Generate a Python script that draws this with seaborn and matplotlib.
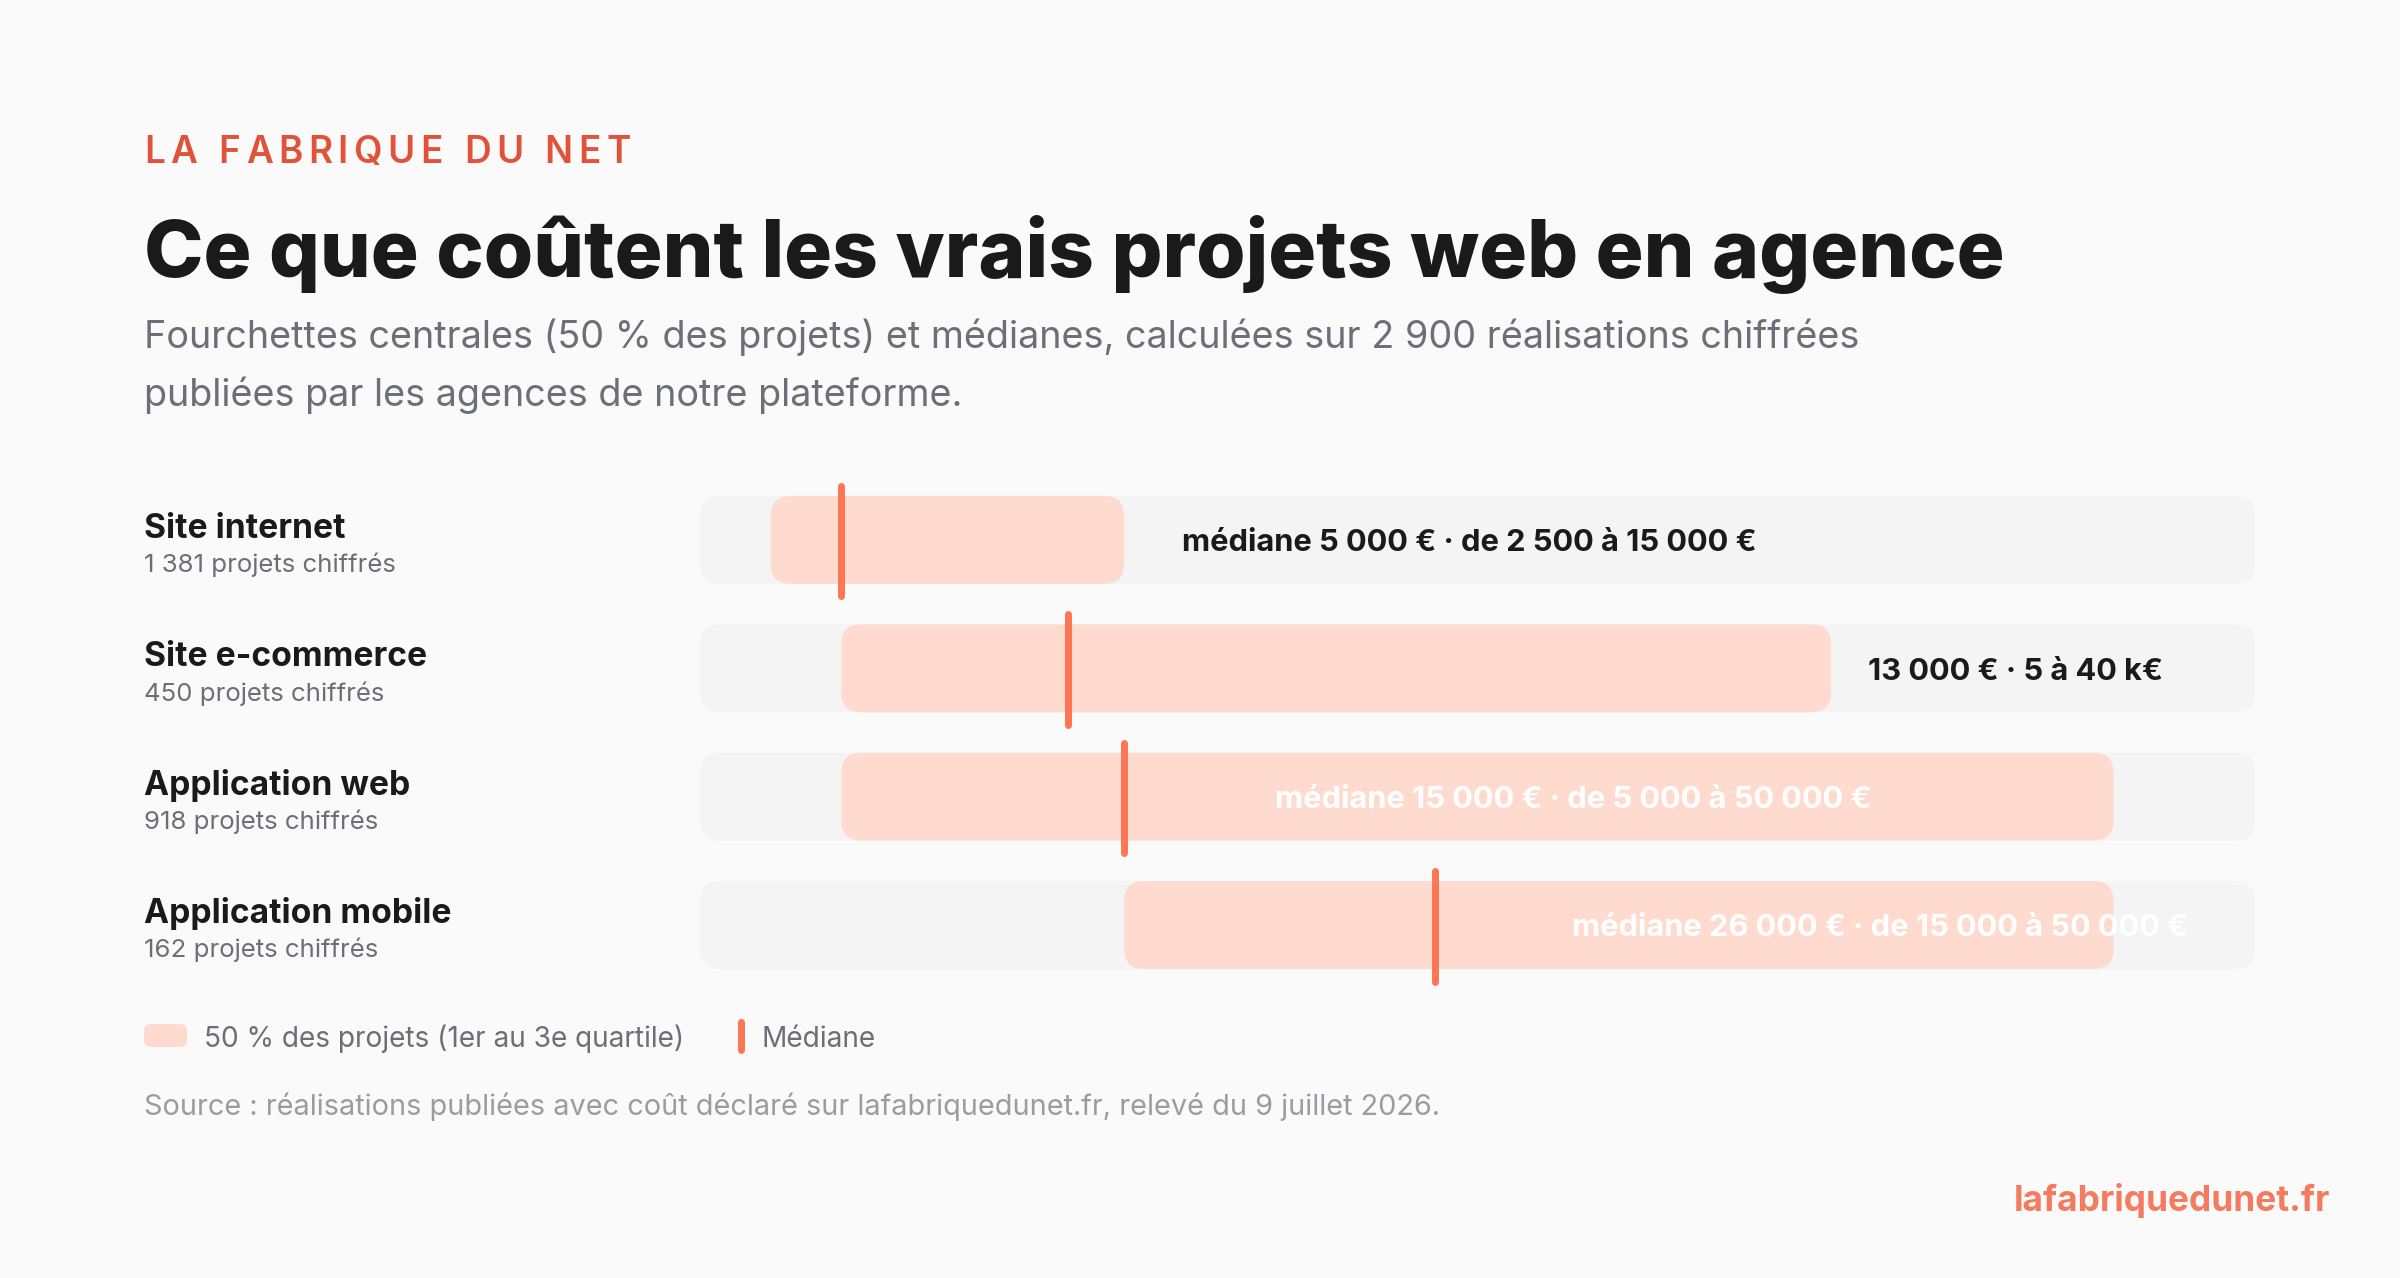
import matplotlib
matplotlib.use("Agg")
import matplotlib.pyplot as plt
import seaborn as sns
import numpy as np
from matplotlib.patches import FancyBboxPatch

# Fourchettes (Q1, Q3) et médianes par type de projet, en euros
categories = ["Site internet", "Site e-commerce", "Application web", "Application mobile"]
counts = ["1 381 projets chiffrés", "450 projets chiffrés", "918 projets chiffrés", "162 projets chiffrés"]
q1 = [2500, 5000, 5000, 15000]
median = [5000, 13000, 15000, 26000]
q3 = [15000, 40000, 50000, 50000]
bar_labels = [
    "médiane 5 000 € · de 2 500 à 15 000 €",
    "13 000 € · 5 à 40 k€",
    "médiane 15 000 € · de 5 000 à 50 000 €",
    "médiane 26 000 € · de 15 000 à 50 000 €",
]
axis_max = 55000

# placement / style des étiquettes (hors données)
label_x = [17050, 41300, 20350, 30850]
label_col = ["#1a1a1a", "#1a1a1a", "white", "white"]

BG = "#fafafa"
TRACK = "#f4f4f4"
FILL = "#ffdbcf"
MED = "#ff7654"
INK = "#1a1a1a"
GREY = "#6e6e78"
LIGHT = "#9b9ba3"

sns.set_theme(style="white")
plt.rcParams["font.family"] = ["Inter", "DejaVu Sans"]

W, H = 2400, 1278
fig = plt.figure(figsize=(W / 200, H / 200), dpi=200, facecolor=BG)

# overlay in pixel coords for header, legend, footer
lay = fig.add_axes([0, 0, 1, 1], facecolor="none")
lay.set_xlim(0, W)
lay.set_ylim(H, 0)
lay.axis("off")

# chart axes: x from 700 px to 2255 px, rows 128.5 px apart
row = 128.5
top = 540 - row / 2
bot = 925 + row / 2
ax = fig.add_axes([700 / W, 1 - bot / H, 1555 / W, (bot - top) / H], facecolor="none")

n = len(categories)
bh = 88 / row
sns.barplot(x=[axis_max] * n, y=categories, orient="h", color=TRACK,
            width=bh, ax=ax, saturation=1)
ax.barh(np.arange(n), np.array(q3) - np.array(q1), left=q1, height=bh, color=FILL)
ax.set_xlim(0, axis_max)
ax.set_ylim(n - 0.5, -0.5)

# rounded corners
sx = 1555 / axis_max
r_px = 20
rx = r_px / sx
ry = r_px / row
for p in list(ax.patches):
    x, y, w, h = p.get_x(), p.get_y(), p.get_width(), p.get_height()
    fc = p.get_facecolor()
    p.remove()
    ax.add_patch(FancyBboxPatch((x, y), w, h,
                                boxstyle=f"round,pad=0,rounding_size={rx}",
                                mutation_aspect=ry / rx, facecolor=fc,
                                edgecolor="none", zorder=1))

ax.vlines(median, np.arange(n) - 0.42, np.arange(n) + 0.44, colors=MED,
          linewidth=7 * 72 / 200, capstyle="round", zorder=3)

for i in range(n):
    ax.text(label_x[i], i + 0.025, bar_labels[i], ha="left", va="center",
            fontsize=11.1, fontweight="bold", color=label_col[i], zorder=4)

ax.set_xticks([])
ax.set_yticks([])
ax.set_xlabel("")
ax.set_ylabel("")
sns.despine(ax=ax, left=True, bottom=True)

# row labels
for i in range(n):
    yb = 538 + i * row
    lay.text(144, yb, categories[i], fontsize=12.1, fontweight="bold",
             color=INK, va="baseline")
    lay.text(144, yb + 34, counts[i], fontsize=9.3, color=GREY, va="baseline")

# kicker with letter spacing
fig.canvas.draw()
rend = fig.canvas.get_renderer()
kx = 144
for ch in "LA FABRIQUE DU NET":
    t = lay.text(kx, 163, ch, fontsize=13.3, fontweight="semibold",
                 color="#e0533a", va="baseline")
    wpx = t.get_window_extent(renderer=rend).width if ch != " " else 10
    kx += wpx + 5.55

lay.text(144, 277, "Ce que coûtent les vrais projets web en agence",
         fontsize=28.8, fontweight="heavy", color=INK, va="baseline")
lay.text(144, 348, "Fourchettes centrales (50 % des projets) et médianes, calculées sur 2 900 réalisations chiffrées",
         fontsize=13.6, color=GREY, va="baseline")
lay.text(144, 406, "publiées par les agences de notre plateforme.",
         fontsize=13.6, color=GREY, va="baseline")

# legend
lay.add_patch(FancyBboxPatch((144, 1024), 43, 23,
                             boxstyle="round,pad=0,rounding_size=7",
                             facecolor=FILL, edgecolor="none"))
lay.text(204, 1047, "50 % des projets (1er au 3e quartile)", fontsize=10.1,
         color=GREY, va="baseline")
lay.plot([741, 741], [1022, 1050], color=MED, linewidth=7 * 72 / 200,
         solid_capstyle="round")
lay.text(761, 1047, "Médiane", fontsize=10.1, color=GREY, va="baseline")

lay.text(144, 1115, "Source : réalisations publiées avec coût déclaré sur lafabriquedunet.fr, relevé du 9 juillet 2026.",
         fontsize=10.4, color=LIGHT, va="baseline")
lay.text(2330, 1211, "lafabriquedunet.fr", fontsize=12.7, fontweight="bold",
         color="#f47b5e", ha="right", va="baseline")

fig.savefig("out.png", dpi=200, facecolor=BG)
